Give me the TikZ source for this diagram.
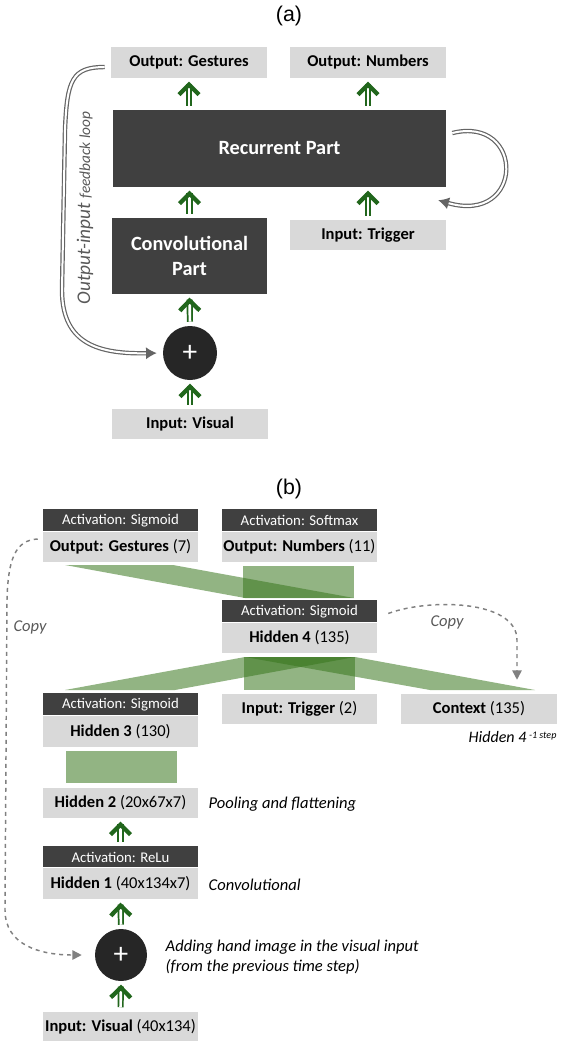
\documentclass[tikz,border=0pt]{standalone}
\usepackage{fontspec}
\setmainfont{Carlito}
\newfontfamily\labelfont{Liberation Sans}
\usetikzlibrary{arrows.meta}
\usetikzlibrary{decorations.markings}
\usetikzlibrary{positioning}
\definecolor{boxdark}{RGB}{64,64,64}
\definecolor{boxlight}{RGB}{217,217,217}
\definecolor{sumdark}{RGB}{38,38,38}
\definecolor{arrgreen}{RGB}{33,102,28}
\definecolor{bandgreen}{RGB}{56,118,29}
\definecolor{loopgray}{RGB}{100,100,100}
\definecolor{copygray}{RGB}{128,128,128}
\definecolor{notegray}{RGB}{89,89,89}
\tikzset{lbox/.style = {fill=boxlight, inner sep=0pt, minimum width=117pt, minimum height=23.25pt,
                        font=\bfseries\fontsize{12.4}{14}\selectfont},
         dbox/.style = {fill=boxdark, text=white, inner sep=0pt, align=center,
                        font=\bfseries\fontsize{15.2}{18.75}\selectfont},
         layer/.style = {fill=boxlight, inner sep=0pt, minimum width=116.25pt, minimum height=22.5pt,
                         font=\fontsize{12.4}{14}\selectfont},
         actbox/.style = {fill=boxdark, text=white, inner sep=0pt, minimum width=116.25pt,
                          minimum height=16.5pt, font=\fontsize{11.1}{13}\selectfont},
         sumnode/.style = {circle, fill=sumdark, text=white, inner sep=0pt,
                           font=\fontsize{22}{22}\selectfont},
         fwd/.style = {draw=arrgreen, line width=1.3pt, double=white, double distance=2pt,
                       shorten <=3pt, shorten >=4pt,
                       decoration={markings,
                                   mark=at position -2.5pt with {\arrow[arrgreen]{Straight Barb[length=7.5pt, width=15pt, line width=3.2pt]}}},
                       postaction={decorate}},
         loopline/.style = {draw=loopgray, line width=0.9pt, double=white, double distance=1.5pt,
                            -{Latex[length=8pt, width=9pt]}},
         copyline/.style = {draw=copygray, dashed, line width=1.1pt,
                            -{Triangle[length=7pt, width=7pt]}},
         band/.style = {fill=bandgreen, fill opacity=0.55},
         note/.style = {anchor=west, align=left, font=\itshape\fontsize{12.4}{15}\selectfont}}

\begin{document}
\begin{tikzpicture}[x=0.75pt, y=-0.75pt]
    \useasboundingbox (0, 0) rectangle (561, 1041);

    % (a)
    \node [font=\labelfont\fontsize{16}{18}\selectfont] (alabel) at (289, 16) {(a)};
    \node [lbox] (gout) at (189, 62.5) {Output: Gestures};
    \node [lbox] (nout) at (368, 62.5) {Output: Numbers};
    \node [dbox, minimum width=249.75pt, minimum height=57.75pt] (rec) at (279.5, 148.5) {Recurrent Part};
    \node [dbox, minimum width=116.25pt, minimum height=57pt] (conv) at (189.5, 256) {Convolutional\\Part};
    \node [lbox, minimum height=22.5pt] (trig) at (368, 235) {Input: Trigger};
    \node [sumnode, minimum size=40.5pt] (sum) at (190, 353) {+};
    \node [lbox, minimum height=22.5pt] (vis) at (190, 424) {Input: Visual};

    \draw [fwd] (rec.north -| gout) -- (gout.south);
    \draw [fwd] (rec.north -| nout) -- (nout.south);
    \draw [fwd] (conv.north) -- (rec.south -| conv);
    \draw [fwd] (trig.north) -- (rec.south -| trig);
    \draw [fwd] (sum.north) -- (conv.south);
    \draw [fwd] (vis.north) -- (sum.south);

    \draw [loopline, shorten >=4.5pt] ([xshift=-4.5pt, yshift=-3.4pt]gout.west)
        .. controls (72, 67) and (67, 80) .. (65, 130) -- (62, 290)
        .. controls (62, 345) and (100, 354) .. (sum.west);
    \draw [loopline] ([xshift=4.5pt, yshift=11.6pt]rec.east)
        .. controls (525, 115) and (525, 225) .. ([xshift=-6pt, yshift=-9.75pt]rec.south east);
    \node [rotate=90, text=notegray, font=\itshape] (fbtext) at (85, 208)
        {\fontsize{14.5}{15}\selectfont Output-input \fontsize{11.5}{12}\selectfont feedback loop};

    % (b)
    \node [font=\labelfont\fontsize{16}{18}\selectfont] (blabel) at (289, 489) {(b)};

    \fill [band] (243, 566) rectangle (354, 598);
    \fill [band] (65, 565) -- (173, 565) -- (354, 598) -- (245, 598) -- cycle;
    \fill [band] (244, 657) rectangle (355, 690);
    \fill [band] (245, 657) -- (355, 657) -- (175, 690) -- (65, 690) -- cycle;
    \fill [band] (245, 657) -- (355, 657) -- (535, 690) -- (430, 690) -- cycle;
    \fill [band] (66, 751) rectangle (177, 783);

    \node [layer] (go) at (120.5, 547) {\textbf{Output: Gestures} (7)};
    \node [actbox, above=0pt of go] (goact) {Activation: Sigmoid};
    \node [layer] (no) at (299.5, 547) {\textbf{Output: Numbers} (11)};
    \node [actbox, above=0pt of no] (noact) {Activation: Softmax};
    \node [layer] (hfour) at (299.5, 638) {\textbf{Hidden 4} (135)};
    \node [actbox, above=0pt of hfour] (hfouract) {Activation: Sigmoid};
    \node [layer] (trg) at (299.5, 709) {\textbf{Input: Trigger} (2)};
    \node [layer, minimum width=117pt] (ctx) at (479, 709) {\textbf{Context} (135)};
    \node [layer, minimum height=23.25pt] (hthree) at (120.5, 731.5) {\textbf{Hidden 3} (130)};
    \node [actbox, above=0pt of hthree] (hthreeact) {Activation: Sigmoid};
    \node [layer] (htwo) at (120.5, 803) {\textbf{Hidden 2} (20x67x7)};
    \node [layer, minimum height=23.25pt] (hone) at (120.5, 883.5) {\textbf{Hidden 1} (40x134x7)};
    \node [actbox, minimum height=15.75pt, above=0pt of hone] (honeact) {Activation: ReLu};
    \node [sumnode, minimum size=39pt] (sumb) at (121, 955) {+};
    \node [layer] (visb) at (120.5, 1026.5) {\textbf{Input: Visual} (40x134)};

    \draw [fwd] (honeact.north) -- (htwo.south);
    \draw [fwd] (sumb.north) -- (hone.south);
    \draw [fwd] (visb.north) -- (sumb.south);

    \draw [copyline, shorten >=9.75pt] ([xshift=-3.75pt, yshift=6pt]go.west)
        .. controls (15, 540) and (8, 560) .. (7, 600) -- (5, 910)
        .. controls (5, 945) and (40, 955) .. (sumb.west);
    \coordinate (ctxin) at ([xshift=28.5pt, yshift=10.5pt]ctx.north);
    \draw [copyline] ([xshift=8.25pt, yshift=-1.5pt]hfouract.east)
        .. controls (430, 598) and (517, 600) .. (517, 640) -- (ctxin);

    \node [note, text=notegray, anchor=center] (copya) at (30, 627) {Copy};
    \node [note, text=notegray, anchor=center] (copyb) at (447, 622) {Copy};
    \node [note, font=\itshape\fontsize{12}{15}\selectfont] (prevh) at (464, 737)
        {Hidden 4\,{\fontsize{7.5}{8}\selectfont\raisebox{0.75ex}{-1 step}}};
    \node [note] (pool) at (204, 804) {Pooling and flattening};
    \node [note] (convnote) at (204, 885) {Convolutional};
    \node [note] (addnote) at (161, 957) {Adding hand image in the visual input\\(from the previous time step)};
\end{tikzpicture}
\end{document}
